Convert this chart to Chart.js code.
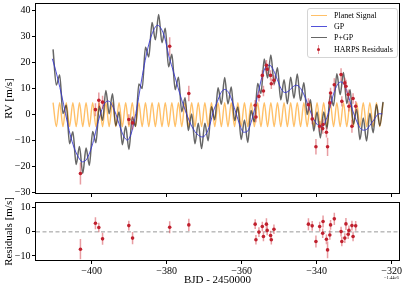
<!DOCTYPE html>
<html>
<head>
<meta charset="utf-8">
<script src="https://cdn.jsdelivr.net/npm/chart.js@4"></script>
<style>
body{margin:0;background:#fff;}
#wrap{position:relative;width:407px;height:291px;overflow:hidden;font-family:"Liberation Serif",serif;color:#000;}
canvas{position:absolute;left:0;}
#top{top:0}
#bot{top:198px}
#legend{position:absolute;left:307px;top:8px;width:89px;height:48px;border:1px solid #d4d4d4;border-radius:3px;background:rgba(255,255,255,0.85);font-size:8px;}
.row{position:absolute;left:0;height:11px;width:100%;}
.row .h{position:absolute;left:3px;top:5px;width:16px;height:0;border-top:1.3px solid;}
.row .eb{position:absolute;left:10px;top:1px;width:0;height:9px;border-left:1.5px solid rgba(210,60,70,0.5);}
.row .dot{position:absolute;left:9px;top:4px;width:3px;height:3px;border-radius:50%;}
.row .t{position:absolute;left:26px;top:0;line-height:11px;white-space:nowrap;}
#offset{position:absolute;left:384px;top:275px;font-size:4.5px;white-space:nowrap;}
</style>
</head>
<body>
<div id="wrap">
  <canvas id="top" width="407" height="198"></canvas>
  <canvas id="bot" width="407" height="93"></canvas>
  <div id="legend"></div>
  <div id="offset">&minus;1.44e6</div>
</div>
<script>
// axis ranges and ticks
var xMin = -414.85, xMax = -318.05;
var xTicks = [-400, -380, -360, -340, -320];
var rvTicks = [-30, -20, -10, 0, 10, 20, 30, 40];
var resTicks = [-10, 0, 10];

// GP model, sampled once a day
var gpTime = [-410.5, -409.5, -408.5, -407.5, -406.5, -405.5, -404.5, -403.5, -402.5, -401.5,
  -400.5, -399.5, -398.5, -397.5, -396.5, -395.5, -394.5, -393.5, -392.5, -391.5,
  -390.5, -389.5, -388.5, -387.5, -386.5, -385.5, -384.5, -383.5, -382.5, -381.5,
  -380.5, -379.5, -378.5, -377.5, -376.5, -375.5, -374.5, -373.5, -372.5, -371.5,
  -370.5, -369.5, -368.5, -367.5, -366.5, -365.5, -364.5, -363.5, -362.5, -361.5,
  -360.5, -359.5, -358.5, -357.5, -356.5, -355.5, -354.5, -353.5, -352.5, -351.5,
  -350.5, -349.5, -348.5, -347.5, -346.5, -345.5, -344.5, -343.5, -342.5, -341.5,
  -340.5, -339.5, -338.5, -337.5, -336.5, -335.5, -334.5, -333.5, -332.5, -331.5,
  -330.5, -329.5, -328.5, -327.5, -326.5, -325.5, -324.5, -323.5, -322.5];
var gpRV = [21.5, 16.5, 10.5, 4, -3, -9, -13.5, -16.5, -18.2, -17.5,
  -14.5, -10, -4, 1, 4.5, 5.2, 3.5, 0, -4.5, -8.2,
  -9.8, -7.5, -1.5, 6.5, 15, 22.5, 28.5, 32.5, 34.4, 33.2,
  29.5, 23, 18, 13, 8, 3.5, -0.5, -4, -6.5, -8,
  -8.6, -7.5, -4, 1.5, 5, 8.5, 9.7, 8.5, 5, 0.5,
  -4, -6.8, -6.5, -3, 2.5, 9, 15, 18.5, 19, 17,
  13.5, 10, 8.5, 9, 10.5, 11.3, 10.5, 8, 4.5, 0.5,
  -2.5, -4.3, -4.5, -2, 2.5, 8, 11.5, 12.6, 11, 7,
  2, -2, -5, -6, -5.5, -3.5, -1.5, 0.3, 0.3];

// planet signal and planet+GP, read at the planet's peaks and troughs
var modelTime = [-410.30, -409.42, -408.54, -407.66, -406.78, -405.90, -405.02, -404.14, -403.26, -402.38,
  -401.50, -400.62, -399.74, -398.86, -397.98, -397.10, -396.22, -395.34, -394.46, -393.58,
  -392.70, -391.82, -390.94, -390.06, -389.18, -388.30, -387.42, -386.54, -385.66, -384.78,
  -383.90, -383.02, -382.14, -381.26, -380.38, -379.50, -378.62, -377.74, -376.86, -375.98,
  -375.10, -374.22, -373.34, -372.46, -371.58, -370.70, -369.82, -368.94, -368.06, -367.18,
  -366.30, -365.42, -364.54, -363.66, -362.78, -361.90, -361.02, -360.14, -359.26, -358.38,
  -357.50, -356.62, -355.74, -354.86, -353.98, -353.10, -352.22, -351.34, -350.46, -349.58,
  -348.70, -347.82, -346.94, -346.06, -345.18, -344.30, -343.42, -342.54, -341.66, -340.78,
  -339.90, -339.02, -338.14, -337.26, -336.38, -335.50, -334.62, -333.74, -332.86, -331.98,
  -331.10, -330.22, -329.34, -328.46, -327.58, -326.70, -325.82, -324.94, -324.06, -323.18,
  -322.30];
var planetRV = [4.6, -4.6, 4.6, -4.6, 4.6, -4.6, 4.6, -4.6, 4.6, -4.6,
  4.6, -4.6, 4.6, -4.6, 4.6, -4.6, 4.6, -4.6, 4.6, -4.6,
  4.6, -4.6, 4.6, -4.6, 4.6, -4.6, 4.6, -4.6, 4.6, -4.6,
  4.6, -4.6, 4.6, -4.6, 4.6, -4.6, 4.6, -4.6, 4.6, -4.6,
  4.6, -4.6, 4.6, -4.6, 4.6, -4.6, 4.6, -4.6, 4.6, -4.6,
  4.6, -4.6, 4.6, -4.6, 4.6, -4.6, 4.6, -4.6, 4.6, -4.6,
  4.6, -4.6, 4.6, -4.6, 4.6, -4.6, 4.6, -4.6, 4.6, -4.6,
  4.6, -4.6, 4.6, -4.6, 4.6, -4.6, 4.6, -4.6, 4.6, -4.6,
  4.6, -4.6, 4.6, -4.6, 4.6, -4.6, 4.6, -4.6, 4.6, -4.6,
  4.6, -4.6, 4.6, -4.6, 4.6, -4.6, 4.6, -4.6, 4.6, -4.6,
  4.6];
var pgpRV = [25.1, 11.4, 15.3, 0.4, 3.6, -11.2, -6.6, -19.2, -12.3, -22.7,
  -12.9, -19.5, -6.5, -10.8, 3.2, -2.2, 9.3, 0.3, 8.0, -4.3,
  1.0, -11.6, -4.5, -13.4, -1.0, -4.5, 11.8, 10.1, 25.9, 22.2,
  35.5, 28.8, 38.6, 27.7, 33.3, 18.4, 23.2, 9.6, 14.4, 1.1,
  6.5, -6.1, 0.2, -11.2, -3.3, -13.1, -3.3, -10.1, 3.0, -2.0,
  10.3, 4.0, 14.3, 4.1, 10.6, -2.3, 2.9, -9.6, -2.1, -10.7,
  1.6, -2.8, 12.0, 8.2, 21.4, 14.1, 23.0, 11.8, 18.0, 5.7,
  13.4, 4.2, 14.4, 6.3, 15.6, 5.4, 12.3, 0.0, 5.7, -6.3,
  1.0, -9.0, 1.0, -5.5, 7.8, 3.4, 15.7, 7.7, 16.2, 4.3,
  9.6, -3.7, 2.1, -9.6, -1.3, -10.2, 0.5, -7.0, 3.9, -4.3,
  4.9];

// HARPS observations
var obsTime = [-403.0, -399.0, -398.1, -397.1, -390.1, -389.1, -379.2, -374.1, -356.4, -356.2,
  -355.4, -354.5, -354.2, -353.4, -353.2, -352.3, -352.1, -351.4, -342.2, -341.2,
  -340.2, -339.2, -338.4, -338.3, -337.4, -337.1, -336.5, -336.3, -335.3, -333.5,
  -333.3, -332.5, -332.2, -331.6, -331.4, -330.6, -330.3, -329.6];
var obsRV = [-22.7, 1.9, 5.5, 4.8, -1.9, -3.2, 26.3, 8.1, 3.6, -0.9,
  7.0, 15.1, 9.1, 19.0, 17.5, 15.1, 11.9, 13.2, 3.8, -1.7,
  -12.4, -4.5, -5.4, -3.8, -6.8, -12.4, 4.5, 8.3, 11.5, 15.4,
  5.1, 12.2, 10.9, 7.7, 3.2, -4.5, 6.2, 3.2];
var obsErr = [4.2, 2.5, 3.0, 2.5, 2.0, 2.5, 3.5, 3.0, 2.0, 2.0,
  2.0, 2.0, 2.0, 2.0, 2.0, 2.0, 2.0, 2.0, 2.5, 2.0,
  3.0, 2.0, 2.0, 2.0, 2.0, 3.5, 2.0, 2.0, 2.5, 2.5,
  2.0, 2.0, 2.5, 2.0, 2.0, 2.5, 2.0, 2.0];
var resRV = [-7.2, 3.6, 1.8, -2.9, 2.6, -2.6, 1.9, 2.9, 3.2, -3.3,
  -0.1, 2.2, -1.9, 3.2, 0.6, -1.5, -3.3, 1.1, 3.2, 2.5,
  -4.0, 2.2, -0.6, 4.3, -3.1, -7.5, -1.3, 2.9, 5.4, 0.1,
  -4.0, -2.6, 3.3, -1.0, 0.6, 2.6, -1.9, 2.5];
var resErr = [4.2, 2.5, 2.0, 2.5, 2.0, 2.5, 2.5, 2.5, 2.0, 2.0,
  2.0, 2.0, 2.0, 2.5, 2.0, 2.0, 2.0, 2.0, 2.5, 2.0,
  2.5, 2.0, 2.0, 2.5, 2.0, 3.5, 2.0, 2.0, 2.5, 2.0,
  2.0, 2.0, 2.5, 2.0, 2.0, 2.0, 2.0, 2.0];

var serif = 'Liberation Serif';
var planetColor = 'rgba(255,165,40,0.7)';
var gpColor = 'rgba(50,50,210,0.85)';
var pgpColor = 'rgba(20,20,20,0.65)';
var redColor = '#c0202e';
var barColor = 'rgba(210,60,70,0.5)';

function pts(xs, ys) {
  return xs.map(function (x, i) { return {x: x, y: ys[i]}; });
}
// vertical bars, separated by gaps
function bars(xs, ys, es) {
  var out = [];
  xs.forEach(function (x, i) {
    out.push({x: x, y: ys[i] - es[i]}, {x: x, y: ys[i] + es[i]}, {x: x, y: null});
  });
  return out;
}
function fmt(v) { return v < 0 ? '\u2212' + Math.abs(v) : String(v); }
function fixedSize(prop, size) {
  return function (s) {
    s[prop] = size;
    s.paddingLeft = 0; s.paddingRight = 0; s.paddingTop = 0; s.paddingBottom = 0;
  };
}
function useTicks(list) {
  return function (s) { s.ticks = list.map(function (v) { return {value: v}; }); };
}

var frame = {
  id: 'frame',
  afterDraw: function (c) {
    var a = c.chartArea, ctx = c.ctx;
    ctx.save();
    ctx.strokeStyle = '#000';
    ctx.lineWidth = 1;
    ctx.strokeRect(a.left - 0.5, a.top - 0.5, a.right - a.left + 1, a.bottom - a.top + 1);
    ctx.restore();
  }
};

var tickGrid = {drawOnChartArea: false, drawTicks: true, tickLength: 4, color: '#000', lineWidth: 1};

function baseOptions(yMin, yMax, yTicks, yTitle, padTop, xHeight, showX) {
  return {
    responsive: false,
    animation: false,
    events: [],
    layout: {padding: {left: 0, right: 8, top: padTop, bottom: 0}},
    plugins: {legend: {display: false}, tooltip: {enabled: false}},
    elements: {point: {radius: 0}},
    scales: {
      x: {
        type: 'linear', min: xMin, max: xMax,
        afterBuildTicks: useTicks(xTicks),
        afterFit: fixedSize('height', xHeight),
        grid: tickGrid,
        border: {display: false},
        ticks: {display: showX, color: '#000', padding: 1, font: {family: serif, size: 10}, callback: fmt},
        title: {display: showX, text: 'BJD - 2450000', color: '#000', font: {family: serif, size: 11}, padding: {top: 0, bottom: 4}}
      },
      y: {
        min: yMin, max: yMax,
        afterBuildTicks: useTicks(yTicks),
        afterFit: fixedSize('width', 36),
        grid: tickGrid,
        border: {display: false},
        ticks: {color: '#000', padding: 1.5, font: {family: serif, size: 10}, callback: fmt},
        title: {display: true, text: yTitle, color: '#000', font: {family: serif, size: 11}, padding: {top: 3}}
      }
    }
  };
}

var topChart = new Chart(document.getElementById('top'), {
  type: 'line',
  data: {
    datasets: [
      {label: 'HARPS Residuals', data: pts(obsTime, obsRV), showLine: false, pointRadius: 1.8,
        pointBackgroundColor: redColor, pointBorderWidth: 0, order: 0},
      {data: bars(obsTime, obsRV, obsErr), borderColor: barColor, borderWidth: 1.5, spanGaps: false, order: 1},
      {label: 'GP', data: pts(gpTime, gpRV), borderColor: gpColor, borderWidth: 1,
        cubicInterpolationMode: 'monotone', order: 2},
      {label: 'P+GP', data: pts(modelTime, pgpRV), borderColor: pgpColor, borderWidth: 1.5,
        cubicInterpolationMode: 'monotone', order: 3},
      {label: 'Planet Signal', data: pts(modelTime, planetRV), borderColor: planetColor, borderWidth: 1.4,
        cubicInterpolationMode: 'monotone', order: 4}
    ]
  },
  options: baseOptions(-30.2, 42.6, rvTicks, 'RV [m/s]', 4, 5, false),
  plugins: [frame]
});

new Chart(document.getElementById('bot'), {
  type: 'line',
  data: {
    datasets: [
      {data: pts(obsTime, resRV), showLine: false, pointRadius: 1.8,
        pointBackgroundColor: redColor, pointBorderWidth: 0, order: 0},
      {data: bars(obsTime, resRV, resErr), borderColor: barColor, borderWidth: 1.5, spanGaps: false, order: 1},
      {data: [{x: xMin, y: 0}, {x: xMax, y: 0}], borderColor: '#999', borderWidth: 1,
        borderDash: [4, 2.5], order: 2}
    ]
  },
  options: baseOptions(-11.7, 12, resTicks, 'Residuals [m/s]', 5, 31, true),
  plugins: [frame]
});

// legend in matplotlib order, built from the top chart's datasets
var legendOrder = ['Planet Signal', 'GP', 'P+GP', 'HARPS Residuals'];
var legend = document.getElementById('legend');
legendOrder.forEach(function (name, i) {
  var ds = topChart.data.datasets.filter(function (d) { return d.label === name; })[0];
  var row = document.createElement('div');
  row.className = 'row';
  row.style.top = (0.6 + 11.3 * i) + 'px';
  if (ds.showLine === false) {
    row.innerHTML = '<span class="eb"></span><span class="dot" style="background:' + ds.pointBackgroundColor + '"></span>';
  } else {
    row.innerHTML = '<span class="h" style="border-color:' + ds.borderColor + '"></span>';
  }
  row.innerHTML += '<span class="t">' + name + '</span>';
  legend.appendChild(row);
});
</script>
</body>
</html>
